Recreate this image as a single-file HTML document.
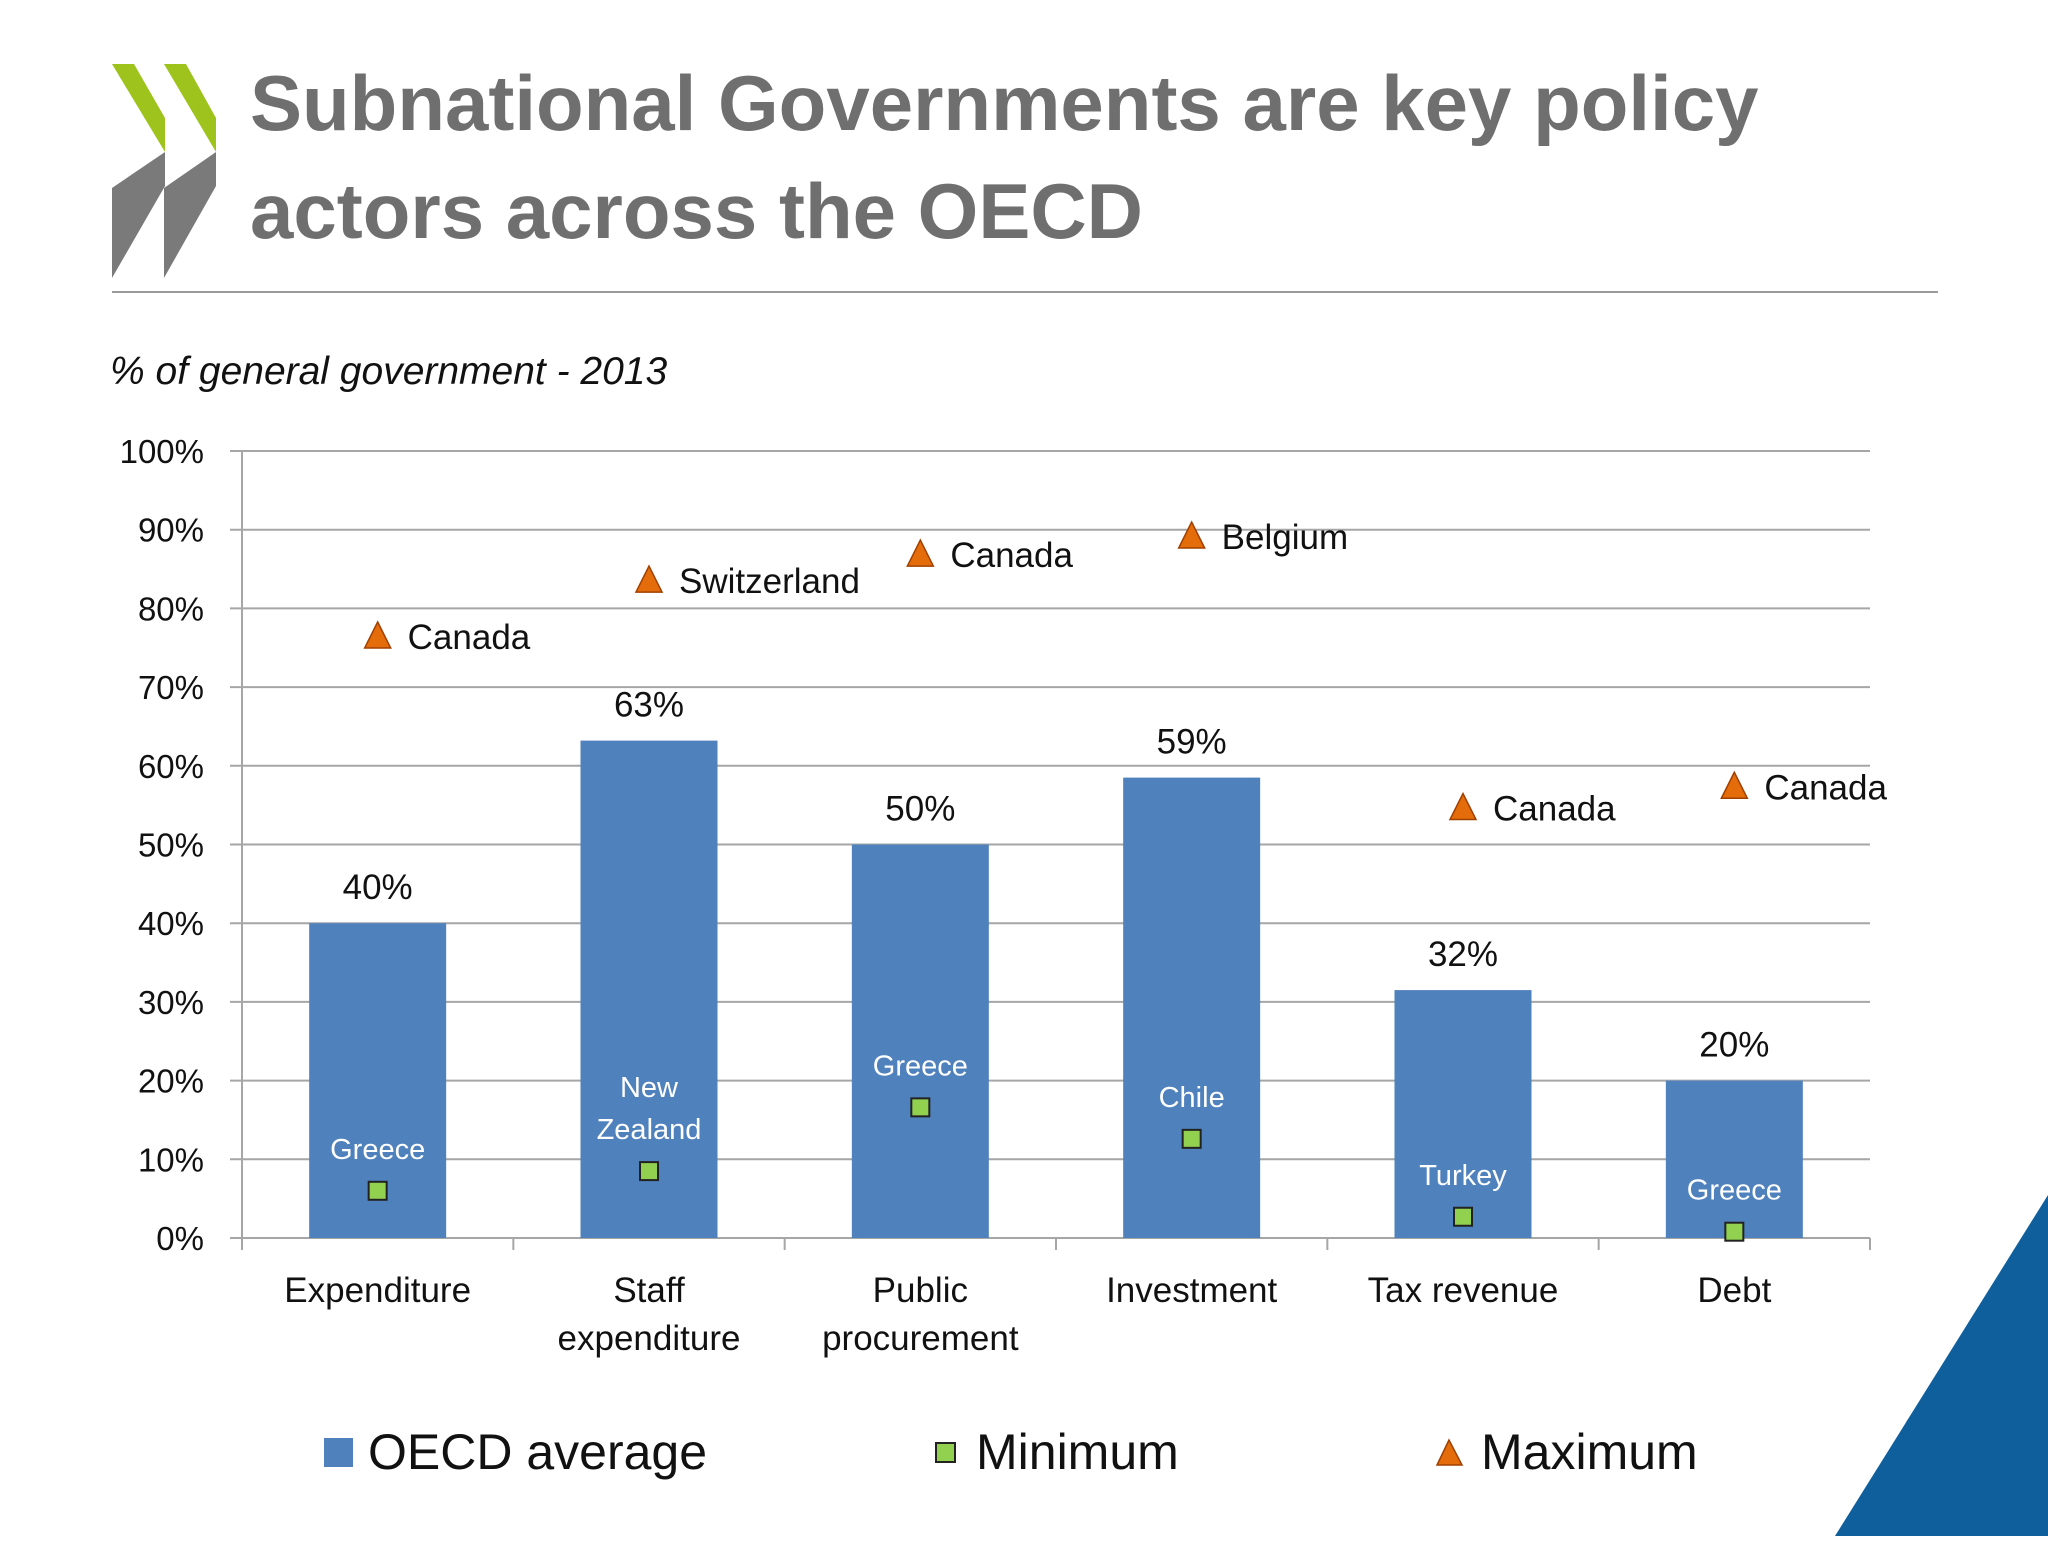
<!DOCTYPE html>
<html><head><meta charset="utf-8"><style>
body{margin:0;background:#fff;}
svg text{font-family:"Liberation Sans",sans-serif;}
</style></head><body>
<svg width="2048" height="1536" viewBox="0 0 2048 1536" xmlns="http://www.w3.org/2000/svg">
<g>
<polygon points="112,64 134,64 165,118 165,152" fill="#9dc31c"/>
<polygon points="112,278 112,188 165,152 165,186 " fill="#7a7a7a"/>
<polygon points="164,64 186,64 216,118 216,152" fill="#9dc31c"/>
<polygon points="164,278 164,188 216,152 216,186" fill="#7a7a7a"/>
</g>
<text x="250" y="130" font-size="78" font-weight="bold" fill="#6f6f6f">Subnational Governments are key policy</text>
<text x="250" y="238" font-size="78" font-weight="bold" fill="#6f6f6f">actors across the OECD</text>
<line x1="112" y1="292" x2="1938" y2="292" stroke="#9a9a9a" stroke-width="2"/>
<text x="110" y="384" font-size="39" font-style="italic" fill="#111">% of general government - 2013</text>
<polygon points="2048,1195 2048,1536 1835,1536" fill="#0f5f9c"/>
<g id="chart"></g>
<g>
<rect x="324" y="1438" width="29" height="29" fill="#4f81bd"/>
<text x="368" y="1469" font-size="50" fill="#111">OECD average</text>
<rect x="936" y="1443" width="19" height="19" fill="#92d050" stroke="#222" stroke-width="2"/>
<text x="976" y="1469" font-size="50" fill="#111">Minimum</text>
<polygon points="1449,1440 1437,1465 1462,1465" fill="#e46c0a" stroke="#a04000" stroke-width="1.5"/>
<text x="1481" y="1469" font-size="50" fill="#111">Maximum</text>
</g>
</svg>
<script>
const categories=[["Expenditure"],["Staff","expenditure"],["Public","procurement"],["Investment"],["Tax revenue"],["Debt"]];
const avgValues=[40,63.2,50,58.5,31.5,20];
const avgLabels=["40%","63%","50%","59%","32%","20%"];
const minValues=[6,8.5,16.6,12.6,2.7,0.8];
const minNames=[["Greece"],["New","Zealand"],["Greece"],["Chile"],["Turkey"],["Greece"]];
const maxValues=[76.5,83.6,86.9,89.2,54.7,57.4];
const maxNames=["Canada","Switzerland","Canada","Belgium","Canada","Canada"];
const yTicks=[0,10,20,30,40,50,60,70,80,90,100];
const NS="http://www.w3.org/2000/svg";
const g=document.getElementById('chart');
const X0=242,X1=1870,Y0=1238,Y1=451;
const step=(X1-X0)/categories.length;
const y=v=>Y0-(v/100)*(Y0-Y1);
const xc=i=>X0+step*(i+0.5);
function mk(t,a,txt){const e=document.createElementNS(NS,t);for(const k in a)e.setAttribute(k,a[k]);if(txt!==undefined)e.textContent=txt;g.appendChild(e);return e;}
yTicks.forEach(v=>{
 const l=mk('line',{x1:X0-12,x2:X1,y1:y(v),y2:y(v),stroke:'#a6a6a6','stroke-width':2});
 
 
 const t=mk('text',{x:204,y:y(v)+12,'font-size':33,'text-anchor':'end',fill:'#111'},v+'%');
 
 
});
const ax=mk('line',{x1:X0,x2:X0,y1:Y1,y2:Y0,stroke:'#a6a6a6','stroke-width':2});


for(let i=0;i<=categories.length;i++){
 const t=mk('line',{x1:X0+step*i,x2:X0+step*i,y1:Y0,y2:Y0+12,stroke:'#a6a6a6','stroke-width':2});
 
 
}
const bw=137;
categories.forEach((c,i)=>{
 const cx=xc(i);
 const b=mk('rect',{x:cx-bw/2,y:y(avgValues[i]),width:bw,height:Y0-y(avgValues[i]),fill:'#4f81bd'});
 
 
 const al=mk('text',{x:cx,y:y(avgValues[i])-24,'font-size':35,'text-anchor':'middle',fill:'#111'},avgLabels[i]);
 
 
 c.forEach((ln,j)=>{
  const t=mk('text',{x:cx,y:1302+j*48,'font-size':35,'text-anchor':'middle',fill:'#111'},ln);
  
  
 });
 const my=y(minValues[i]);
 const m=mk('rect',{x:cx-9,y:my-9,width:18,height:18,fill:'#92d050',stroke:'#222','stroke-width':2});
 
 
 const nm=minNames[i];
 nm.forEach((ln,j)=>{
  const t=mk('text',{x:cx,y:my-32-(nm.length-1-j)*42,'font-size':29,'text-anchor':'middle',fill:'#fff'},ln);
  
  
 });
 const ty=y(maxValues[i]);
 const tr=mk('polygon',{points:`${cx},${ty-14} ${cx-13},${ty+12} ${cx+13},${ty+12}`,fill:'#e46c0a',stroke:'#a04000','stroke-width':1.5});
 
 
 const xl=mk('text',{x:cx+30,y:ty+13,'font-size':35,fill:'#111'},maxNames[i]);
 
 
});
</script>
</body></html>
